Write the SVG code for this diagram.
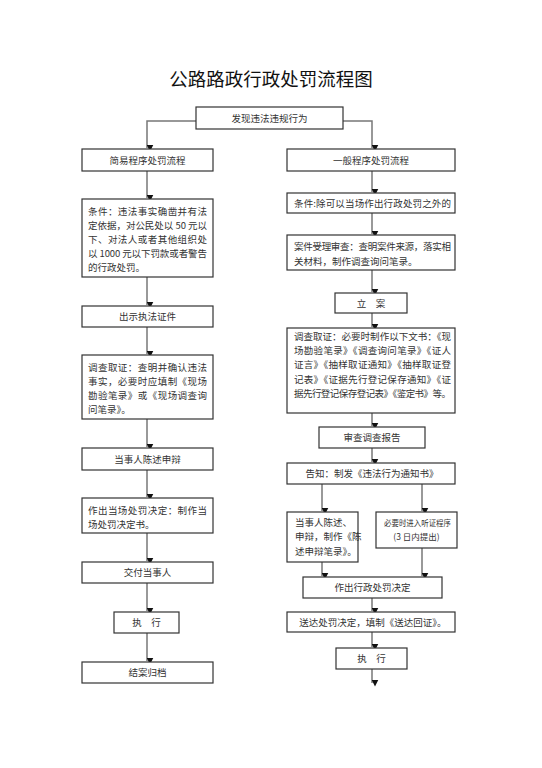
<svg xmlns="http://www.w3.org/2000/svg" width="542" height="768" viewBox="0 0 542 768">
<defs>
<marker id="ah" markerWidth="7" markerHeight="7" refX="3.5" refY="6.5" orient="auto" markerUnits="userSpaceOnUse" viewBox="0 0 7 7">
<path d="M0,0 L7,0 L3.5,7 Z" fill="#111" transform="rotate(-90 3.5 3.5)"/>
</marker>
<style>
.b{fill:#fff;stroke:#333;stroke-width:1.2}
.t{font-family:"Noto Sans CJK SC","Noto Sans",sans-serif;font-size:9.5px;fill:#333}
.c{text-anchor:middle}
.l{fill:none;stroke:#777;stroke-width:1.5;marker-end:url(#ah)}
</style>
</defs>
<rect width="542" height="768" fill="#fff"/>
<text x="271" y="86" text-anchor="middle" style="font-family:'Noto Sans CJK SC',sans-serif;font-size:18.5px;fill:#111">公路路政行政处罚流程图</text>

<g id="connectors">
<path class="l" d="M196,121 H147 V148"/>
<path class="l" d="M343,121 H372 V148"/>
<path class="l" d="M147,171 V198"/>
<path class="l" d="M147,277 V305"/>
<path class="l" d="M147,327 V354"/>
<path class="l" d="M147,419 V447"/>
<path class="l" d="M147,470 V497"/>
<path class="l" d="M147,533 V561"/>
<path class="l" d="M147,583 V611"/>
<path class="l" d="M147,633 V661"/>
<path class="l" d="M372,171 V192"/>
<path class="l" d="M372,213 V234"/>
<path class="l" d="M372,270 V292"/>
<path class="l" d="M372,313 V327"/>
<path class="l" d="M372,413 V426"/>
<path class="l" d="M372,448 V462"/>
<path class="l" d="M322,484 V511"/>
<path class="l" d="M422,484 V511"/>
<path class="l" d="M322,562 V576"/>
<path class="l" d="M422,548 V576"/>
<path class="l" d="M372,598 V611"/>
<path class="l" d="M372,632 V647"/>
<path class="l" d="M372,669 V683"/>
</g>

<g id="n-start"><rect class="b" x="196" y="107" width="147" height="22"/><text class="t c" x="269.5" y="121.5">发现违法违规行为</text></g>

<g id="n-simple"><rect class="b" x="82" y="149" width="131" height="22"/><text class="t c" x="147.5" y="163.5">简易程序处罚流程</text></g>
<g id="n-cond1"><rect class="b" x="82" y="199" width="131" height="78"/>
<text class="t" x="88" y="214.5" textLength="119" lengthAdjust="spacing">条件：违法事实确凿并有法</text>
<text class="t" x="88" y="228.5" textLength="119" lengthAdjust="spacing">定依据，对公民处以 50 元以</text>
<text class="t" x="88" y="243" textLength="119" lengthAdjust="spacing">下、对法人或者其他组织处</text>
<text class="t" x="88" y="257" textLength="119" lengthAdjust="spacing">以 1000 元以下罚款或者警告</text>
<text class="t" x="88" y="271">的行政处罚。</text></g>
<g id="n-show"><rect class="b" x="82" y="306" width="131" height="21"/><text class="t c" x="147.5" y="320">出示执法证件</text></g>
<g id="n-inv1"><rect class="b" x="82" y="355" width="131" height="64"/>
<text class="t" x="88" y="370.5" textLength="119" lengthAdjust="spacing">调查取证：查明并确认违法</text>
<text class="t" x="88" y="384.5" textLength="119" lengthAdjust="spacing">事实，必要时应填制《现场</text>
<text class="t" x="88" y="398.5" textLength="119" lengthAdjust="spacing">勘验笔录》或《现场调查询</text>
<text class="t" x="88" y="412.5">问笔录》。</text></g>
<g id="n-state1"><rect class="b" x="82" y="448" width="131" height="22"/><text class="t c" x="147.5" y="462.5">当事人陈述申辩</text></g>
<g id="n-dec1"><rect class="b" x="82" y="498" width="131" height="35"/>
<text class="t" x="88" y="513.5" textLength="119" lengthAdjust="spacing">作出当场处罚决定：制作当</text>
<text class="t" x="88" y="528">场处罚决定书。</text></g>
<g id="n-deliver1"><rect class="b" x="82" y="562" width="131" height="21"/><text class="t c" x="147.5" y="576">交付当事人</text></g>
<g id="n-exec1"><rect class="b" x="114" y="612" width="65" height="21"/><text class="t c" x="146.5" y="626">执　行</text></g>
<g id="n-archive"><rect class="b" x="82" y="662" width="131" height="21"/><text class="t c" x="147.5" y="676">结案归档</text></g>

<g id="n-general"><rect class="b" x="287" y="149" width="168" height="22"/><text class="t c" x="371" y="163.5">一般程序处罚流程</text></g>
<g id="n-cond2"><rect class="b" x="287" y="193" width="168" height="20"/><text class="t" x="294" y="206.5" textLength="157" lengthAdjust="spacing">条件:除可以当场作出行政处罚之外的</text></g>
<g id="n-accept"><rect class="b" x="287" y="235" width="168" height="35"/>
<text class="t" x="294" y="250" textLength="157" lengthAdjust="spacing">案件受理审查：查明案件来源，落实相</text>
<text class="t" x="294" y="264.5">关材料，制作调查询问笔录。</text></g>
<g id="n-file"><rect class="b" x="335" y="293" width="72" height="20"/><text class="t c" x="371" y="306.5">立　案</text></g>
<g id="n-inv2"><rect class="b" x="287" y="328" width="168" height="85"/>
<text class="t" x="294" y="339.5" textLength="157" lengthAdjust="spacing">调查取证：必要时制作以下文书：《现</text>
<text class="t" x="294" y="353.5" textLength="157" lengthAdjust="spacing">场勘验笔录》《调查询问笔录》《证人</text>
<text class="t" x="294" y="368" textLength="157" lengthAdjust="spacing">证言》《抽样取证通知》《抽样取证登</text>
<text class="t" x="294" y="382.5" textLength="157" lengthAdjust="spacing">记表》《证据先行登记保存通知》《证</text>
<text class="t" x="294" y="396.5" textLength="157" lengthAdjust="spacing">据先行登记保存登记表》《鉴定书》等。</text></g>
<g id="n-review"><rect class="b" x="319" y="427" width="106" height="21"/><text class="t c" x="372" y="441">审查调查报告</text></g>
<g id="n-notify"><rect class="b" x="287" y="463" width="168" height="21"/><text class="t c" x="372" y="477">告知：制发《违法行为通知书》</text></g>
<g id="n-state2"><rect class="b" x="287" y="512" width="71" height="50"/>
<text class="t" x="295" y="525.5">当事人陈述、</text>
<text class="t" x="295" y="540">申辩，制作《陈</text>
<text class="t" x="295" y="554.5">述申辩笔录》。</text></g>
<g id="n-hearing"><rect class="b" x="376" y="512" width="81" height="36"/>
<text class="t" x="384" y="525.5" style="font-size:8.5px" textLength="67" lengthAdjust="spacingAndGlyphs">必要时进入听证程序</text>
<text class="t c" x="416.5" y="540" style="font-size:8.5px">(3 日内提出)</text></g>
<g id="n-dec2"><rect class="b" x="303" y="577" width="139" height="21"/><text class="t c" x="372.5" y="591">作出行政处罚决定</text></g>
<g id="n-deliver2"><rect class="b" x="287" y="612" width="168" height="20"/><text class="t c" x="373" y="625.5">送达处罚决定，填制《送达回证》。</text></g>
<g id="n-exec2"><rect class="b" x="336" y="648" width="71" height="21"/><text class="t c" x="371.5" y="662">执　行</text></g>
</svg>
